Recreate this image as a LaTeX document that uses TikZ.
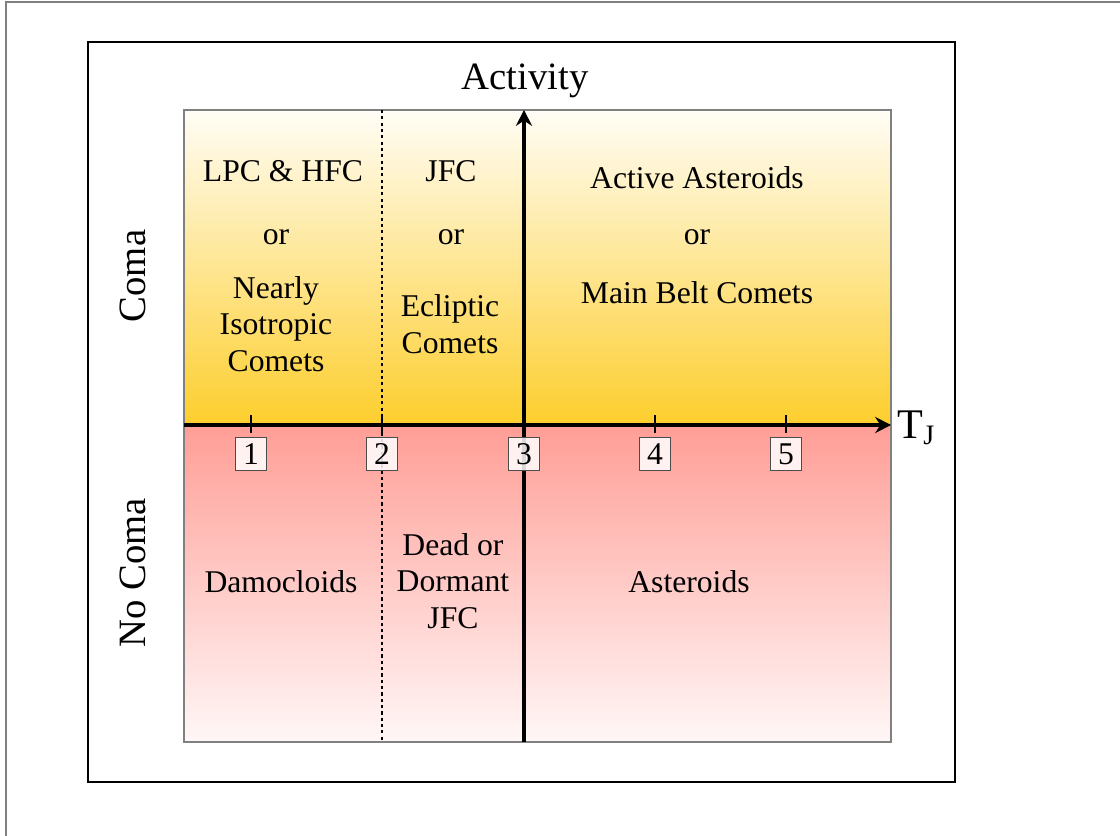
\documentclass[tikz,border=0pt]{standalone}
\usepackage{fontspec}
\setmainfont{Liberation Serif}
\usetikzlibrary{positioning}
\usetikzlibrary{arrows.meta}
\definecolor{comagold}{RGB}{253,206,45}
\definecolor{comacream}{RGB}{255,253,246}
\definecolor{nocomasalmon}{RGB}{255,158,150}
\definecolor{nocomapale}{RGB}{255,247,247}

\begin{document}
\begin{tikzpicture}[x=0.01cm, y=-0.01cm,
classnode/.style={font=\fontsize{9}{10.3}\selectfont, align=center, anchor=base, inner sep=0pt},
axislabel/.style={font=\fontsize{11}{13}\selectfont, inner sep=0pt},
tjnode/.style={rectangle, draw=black!70, fill=white, fill opacity=0.85, text opacity=1, font=\fontsize{9}{10}\selectfont, minimum width=9pt, minimum height=9.6pt, inner sep=0pt, line width=0.3pt},
axis/.style={line width=1.05pt, -{Stealth[length=4.5pt,width=4.6pt]}},
]
\useasboundingbox (0,0) rectangle (1120,836);
%Frames
\draw[gray, line width=0.6pt] (6,836) -- (6,2) -- (1120,2);
\draw[line width=0.85pt] (88,42) rectangle (955,782);

%Shading
\shade[top color=comacream, bottom color=comagold] (184,110) rectangle (891,425);
\shade[top color=nocomasalmon, bottom color=nocomapale] (184,425) rectangle (891,742);
\draw[gray, line width=0.35pt] (184,110) rectangle (891,742);

%Coordinates
\coordinate (xstart) at (184,425);
\coordinate (xend)   at (891,425);
\coordinate (ystart) at (524,742);
\coordinate (yend)   at (524,110);
\coordinate (dtop)   at (382,110);
\coordinate (dbot)   at (382,742);

%Lines
\draw[dash pattern=on 0.9pt off 0.9pt, line width=0.6pt] (dtop) -- (dbot);
\foreach \x in {251,382,655,786} \draw[line width=0.6pt] (\x,415) -- (\x,433);
\draw[axis] (xstart) -- (xend);
\draw[axis] (ystart) -- (yend);

%Tick labels
\foreach \n/\x in {1/251,2/382,3/524,4/655,5/786}
  \node[tjnode] (tick\n) at (\x,454) {\n};

%Axis labels
\node[axislabel]            (activity) at (525,81)  {Activity};
\node[axislabel, rotate=90] (coma)     at (133,276) {Coma};
\node[axislabel, rotate=90] (nocoma)   at (133,573) {No Coma};
\node[axislabel, font=\fontsize{12}{14}\selectfont, anchor=west] (tj) at (897,428) {T\textsubscript{J}};

%Coma classes
\node[classnode] (lpc)     at (283,181) {LPC \& HFC};
\node[classnode] (lpcor)   at (276,244) {or};
\node[classnode] (nic)     at (276,371) {Nearly\\Isotropic\\Comets};
\node[classnode] (jfc)     at (451,181) {JFC};
\node[classnode] (jfcor)   at (451,244) {or};
\node[classnode] (ecl)     at (450,353) {Ecliptic\\Comets};
\node[classnode] (aa)      at (697,188) {Active Asteroids};
\node[classnode] (aaor)    at (697,244) {or};
\node[classnode] (mbc)     at (697,303) {Main Belt Comets};

%No coma classes
\node[classnode] (damo)    at (281,592) {Damocloids};
\node[classnode] (dead)    at (453,628) {Dead or\\Dormant\\JFC};
\node[classnode] (ast)     at (689,592) {Asteroids};
\end{tikzpicture}
\end{document}
